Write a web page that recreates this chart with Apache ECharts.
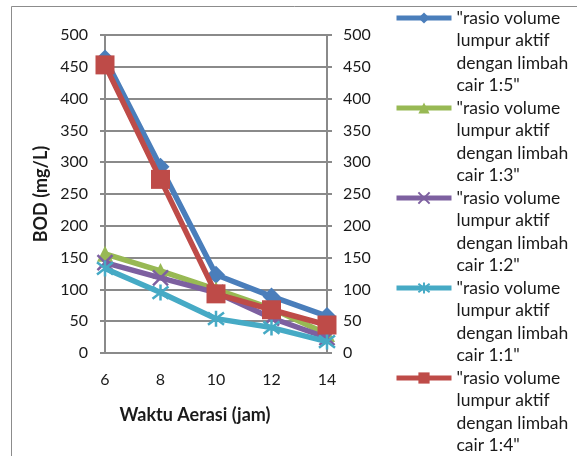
<!DOCTYPE html>
<html>
<head>
<meta charset="utf-8">
<script src="https://cdn.jsdelivr.net/npm/echarts@6/dist/echarts.min.js"></script>
<style>
  html, body { margin: 0; padding: 0; background: #fff; }
  #chart { width: 577px; height: 456px; }
</style>
</head>
<body>
<div id="chart"></div>
<script>
// Aeration time (hours) on the x axis
const categories = ['6', '8', '10', '12', '14'];

// Series names, in legend order
const seriesNames = [
  '"rasio volume lumpur aktif dengan limbah cair 1:5"',
  '"rasio volume lumpur aktif dengan limbah cair 1:3"',
  '"rasio volume lumpur aktif dengan limbah cair 1:2"',
  '"rasio volume lumpur aktif dengan limbah cair 1:1"',
  '"rasio volume lumpur aktif dengan limbah cair 1:4"'
];

// BOD (mg/L) readings per ratio
const bod_1_5 = [463, 293, 123, 89, 58];
const bod_1_3 = [156, 129, 100, 70, 30];
const bod_1_2 = [142, 118, 95, 55, 24];
const bod_1_1 = [133, 95, 54, 40, 18];
const bod_1_4 = [453, 273, 93, 68, 44];

// Value axis ticks
const yTicks = { min: 0, max: 500, step: 50 };

const colors = ['#4a7ebb', '#98b954', '#7d60a0', '#46aac5', '#be4b48'];
const symbols = [
  'diamond',
  'triangle',
  'path://M0,0L10,10M10,0L0,10',
  'path://M0,0L10,10M10,0L0,10M5,-1.5L5,11.5',
  'rect'
];
const symbolSizes = [18, 16, 15, 16, 19];
const values = [bod_1_5, bod_1_3, bod_1_2, bod_1_1, bod_1_4];

const FONT = 'Lato, "Open Sans", sans-serif';
const GRID_COLOR = '#8a8a8a';
const LINE_H = 22.5;

const chart = echarts.init(document.getElementById('chart'), null, { renderer: 'canvas' });

const series = seriesNames.map((name, i) => ({
  name: name,
  type: 'line',
  yAxisIndex: 0,
  data: values[i],
  symbol: symbols[i],
  symbolSize: symbolSizes[i],
  showAllSymbol: true,
  lineStyle: { width: 5.5, color: colors[i] },
  itemStyle: {
    color: colors[i],
    borderColor: colors[i],
    borderWidth: (i === 2 || i === 3) ? 2.5 : 0
  },
  emphasis: { disabled: true },
  animation: false,
  z: 2 + i
}));

const valueAxis = (position, margin) => ({
  type: 'value',
  position: position,
  min: yTicks.min,
  max: yTicks.max,
  interval: yTicks.step,
  axisLine: { show: true, lineStyle: { color: GRID_COLOR, width: 2 } },
  axisTick: { show: true, inside: false, length: 5, lineStyle: { color: GRID_COLOR, width: 2 } },
  axisLabel: { margin: margin, color: '#1a1a1a', fontFamily: FONT, fontSize: 16 },
  splitLine: { show: position === 'left', lineStyle: { color: GRID_COLOR, width: 2 } }
});

const leftAxis = valueAxis('left', 17);
leftAxis.name = 'BOD (mg/L)';
leftAxis.nameLocation = 'middle';
leftAxis.nameRotate = 90;
leftAxis.nameGap = 55;
leftAxis.nameTextStyle = { fontFamily: FONT, fontSize: 18, fontWeight: 'bold', color: '#1a1a1a' };

const rightAxis = valueAxis('right', 16);

chart.setOption({
  animation: false,
  backgroundColor: '#fff',
  grid: { left: 105, right: 250, top: 35, bottom: 103, containLabel: false },
  xAxis: {
    type: 'category',
    data: categories,
    boundaryGap: false,
    name: 'Waktu Aerasi (jam)',
    nameLocation: 'middle',
    nameGap: 53,
    nameTextStyle: {
      fontFamily: FONT, fontSize: 18, fontWeight: 'bold', color: '#1a1a1a',
      padding: [0, 42, 0, 0]
    },
    axisLine: { show: true, lineStyle: { color: GRID_COLOR, width: 2 } },
    axisTick: { show: false },
    axisLabel: { margin: 19, color: '#1a1a1a', fontFamily: FONT, fontSize: 16 },
    splitLine: { show: false }
  },
  yAxis: [leftAxis, rightAxis],
  legend: {
    orient: 'vertical',
    left: 394,
    top: 18 - 3.5 * LINE_H,
    height: 900,
    padding: 0,
    itemGap: 90 - 7 * LINE_H,
    itemWidth: 55,
    itemHeight: 14,
    data: seriesNames,
    lineStyle: { width: 5 },
    textStyle: { fontFamily: FONT, fontSize: 17.5, color: '#1a1a1a', lineHeight: LINE_H },
    formatter: (name) => ' \n \n \n' + name
      .replace(' lumpur', '\nlumpur')
      .replace(' dengan', '\ndengan')
      .replace(' cair', '\ncair')
  },
  graphic: [{
    type: 'rect',
    silent: true,
    z: -1,
    shape: { x: 11.5, y: 6.5, width: 700, height: 600 },
    style: { fill: 'none', stroke: '#8c8c8c', lineWidth: 1 }
  }],
  series: series
});
</script>
</body>
</html>
